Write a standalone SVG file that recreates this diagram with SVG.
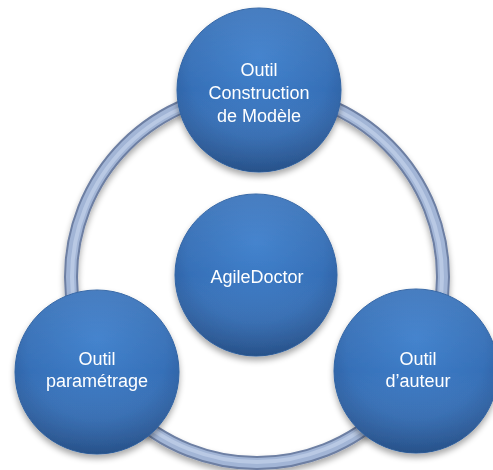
<svg xmlns="http://www.w3.org/2000/svg" width="493" height="470" viewBox="0 0 493 470">
<defs>
<radialGradient id="ball" cx="50%" cy="40%" r="60%" fx="50%" fy="30%">
<stop offset="0" stop-color="#3f80cc"/>
<stop offset="0.7" stop-color="#3670b8"/>
<stop offset="1" stop-color="#2c5c9c"/>
</radialGradient>
<linearGradient id="shade" x1="0" y1="0" x2="0" y2="1">
<stop offset="0" stop-color="#ffffff" stop-opacity="0.08"/>
<stop offset="0.5" stop-color="#ffffff" stop-opacity="0"/>
<stop offset="1" stop-color="#000000" stop-opacity="0.12"/>
</linearGradient>
<filter id="sh" x="-20%" y="-20%" width="140%" height="150%">
<feGaussianBlur in="SourceAlpha" stdDeviation="3"/>
<feOffset dy="4"/>
<feComponentTransfer><feFuncA type="linear" slope="0.35"/></feComponentTransfer>
<feMerge><feMergeNode/><feMergeNode in="SourceGraphic"/></feMerge>
</filter>
</defs>
<style>
.node circle.b{fill:url(#ball);stroke:#2f62a3;stroke-width:1}
.node circle.s{fill:url(#shade)}
.t{font-family:"Liberation Sans",Arial,sans-serif;font-size:18px;fill:#ffffff;text-anchor:middle}
</style>
<g id="connectors">
<circle cx="257" cy="277" r="186" fill="none" stroke="#6d7fa3" stroke-width="14" filter="url(#sh)"/>
<circle cx="257" cy="277" r="186" fill="none" stroke="#a2b5d6" stroke-width="10"/>
<circle cx="257" cy="277" r="185" fill="none" stroke="#b9c9e4" stroke-width="4"/>
</g>
<g id="node-top" class="node" filter="url(#sh)">
<circle class="b" cx="259" cy="90" r="82"/>
<circle class="s" cx="259" cy="90" r="82"/>
<text class="t" x="259" y="76">Outil</text>
<text class="t" x="259" y="99">Construction</text>
<text class="t" x="259" y="122">de Modèle</text>
</g>
<g id="node-center" class="node" filter="url(#sh)">
<circle class="b" cx="256" cy="275" r="81"/>
<circle class="s" cx="256" cy="275" r="81"/>
<text class="t" x="257" y="283">AgileDoctor</text>
</g>
<g id="node-left" class="node" filter="url(#sh)">
<circle class="b" cx="97" cy="372" r="82"/>
<circle class="s" cx="97" cy="372" r="82"/>
<text class="t" x="97" y="365">Outil</text>
<text class="t" x="97" y="387">paramétrage</text>
</g>
<g id="node-right" class="node" filter="url(#sh)">
<circle class="b" cx="416" cy="371" r="82"/>
<circle class="s" cx="416" cy="371" r="82"/>
<text class="t" x="418" y="365">Outil</text>
<text class="t" x="418" y="387">d’auteur</text>
</g>
</svg>
